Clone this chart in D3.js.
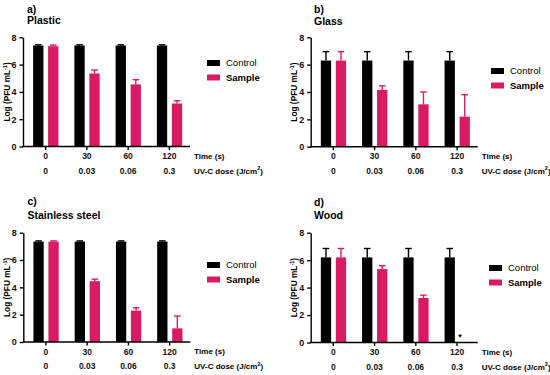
<!DOCTYPE html>
<html>
<head>
<meta charset="utf-8">
<script src="https://cdn.jsdelivr.net/npm/d3@7"></script>
<style>
  body { margin: 0; background: #fff; }
  svg { font-family: "Liberation Sans", Arial, sans-serif; }
</style>
</head>
<body>
<div id="chart"></div>
<script>
// data
var times = ["0", "30", "60", "120"]
var doses = ["0", "0.03", "0.06", "0.3"]
var seriesNames = ["Control", "Sample"]

var plasticControl = [7.4, 7.4, 7.4, 7.4]
var plasticControlErr = [0.05, 0.05, 0.05, 0.05]
var plasticSample = [7.35, 5.35, 4.55, 3.15]
var plasticSampleErr = [0.08, 0.25, 0.35, 0.2]

var glassControl = [6.3, 6.3, 6.3, 6.3]
var glassControlErr = [0.65, 0.65, 0.65, 0.65]
var glassSample = [6.3, 4.15, 3.1, 2.2]
var glassSampleErr = [0.65, 0.3, 0.9, 1.6]

var steelControl = [7.35, 7.35, 7.35, 7.35]
var steelControlErr = [0.05, 0.05, 0.05, 0.05]
var steelSample = [7.35, 4.45, 2.3, 1.0]
var steelSampleErr = [0.05, 0.15, 0.2, 0.9]

var woodControl = [6.2, 6.2, 6.2, 6.2]
var woodControlErr = [0.65, 0.65, 0.65, 0.65]
var woodSample = [6.2, 5.35, 3.25, 0]
var woodSampleErr = [0.65, 0.25, 0.2, 0]

var yTicks = [0, 2, 4, 6, 8]

var colors = { Control: "#000000", Sample: "#d81b64" }

var width = 550, height = 375

var svg = d3.select("#chart")
    .append("svg")
    .attr("width", width)
    .attr("height", height)

var panels = [
    { tag: "a)", name: "Plastic", c: plasticControl, ce: plasticControlErr, s: plasticSample, se: plasticSampleErr,
      x0: 23, yTop: 37.3, yBot: 146.5, tagY: 12.5, nameY: 24, tagX: 27, legX: 207, legY: 60 },
    { tag: "b)", name: "Glass", c: glassControl, ce: glassControlErr, s: glassSample, se: glassSampleErr,
      x0: 310.7, yTop: 37.3, yBot: 146.7, tagY: 13, nameY: 25, tagX: 314, legX: 491, legY: 68 },
    { tag: "c)", name: "Stainless steel", c: steelControl, ce: steelControlErr, s: steelSample, se: steelSampleErr,
      x0: 23.3, yTop: 232.7, yBot: 342, tagY: 205, nameY: 219, tagX: 27.5, legX: 207, legY: 262 },
    { tag: "d)", name: "Wood", c: woodControl, ce: woodControlErr, s: woodSample, se: woodSampleErr,
      x0: 310.7, yTop: 232.7, yBot: 342.5, tagY: 206, nameY: 219, tagX: 314, legX: 489, legY: 265, star: true }
]

var barW = 10.3

panels.forEach(function (p) {
    var g = svg.append("g")

    var x = d3.scaleBand()
        .domain(times)
        .range([p.x0 + 2, p.x0 + 167])

    var y = d3.scaleLinear()
        .domain([0, 8])
        .range([p.yBot, p.yTop])

    // titles
    g.append("text")
        .attr("x", p.tagX).attr("y", p.tagY)
        .attr("font-size", 10.5).attr("font-weight", "bold")
        .text(p.tag)
    g.append("text")
        .attr("x", p.tagX).attr("y", p.nameY)
        .attr("font-size", 10.5).attr("font-weight", "bold")
        .text(p.name)

    // bars
    var rows = times.map(function (t, i) {
        return [
            { key: "Control", t: t, v: p.c[i], e: p.ce[i], off: -12.5 },
            { key: "Sample", t: t, v: p.s[i], e: p.se[i], off: 2.5 }
        ]
    }).flat()

    var cx = function (d) { return x(d.t) + x.bandwidth() / 2 + d.off }

    g.selectAll("rect.bar")
        .data(rows)
        .enter()
        .append("rect")
        .attr("class", "bar")
        .attr("x", cx)
        .attr("y", function (d) { return y(d.v) })
        .attr("width", barW)
        .attr("height", function (d) { return y(0) - y(d.v) })
        .attr("fill", function (d) { return colors[d.key] })

    // error bars (upper half only)
    var errs = rows.filter(function (d) { return d.v > 0 })
    g.selectAll("line.err")
        .data(errs)
        .enter()
        .append("line")
        .attr("x1", function (d) { return cx(d) + barW / 2 })
        .attr("x2", function (d) { return cx(d) + barW / 2 })
        .attr("y1", function (d) { return y(d.v) })
        .attr("y2", function (d) { return y(d.v + d.e) })
        .attr("stroke", function (d) { return colors[d.key] })
        .attr("stroke-width", 1.4)
    g.selectAll("line.cap")
        .data(errs)
        .enter()
        .append("line")
        .attr("x1", function (d) { return cx(d) + barW / 2 - 3.3 })
        .attr("x2", function (d) { return cx(d) + barW / 2 + 3.3 })
        .attr("y1", function (d) { return y(d.v + d.e) })
        .attr("y2", function (d) { return y(d.v + d.e) })
        .attr("stroke", function (d) { return colors[d.key] })
        .attr("stroke-width", 1.4)

    if (p.star) {
        g.append("text")
            .attr("x", x("120") + x.bandwidth() / 2 + 3)
            .attr("y", y(0) - 3)
            .attr("text-anchor", "middle")
            .attr("font-size", 9).attr("font-weight", "bold")
            .text("*")
    }

    // y axis
    var yAxis = g.append("g")
        .attr("transform", "translate(" + p.x0 + ",0)")
        .call(d3.axisLeft(y).tickValues(yTicks).tickSize(3.5).tickSizeOuter(0))
    yAxis.select(".domain").attr("stroke-width", 1.4)
    yAxis.selectAll(".tick line").attr("stroke-width", 1.4)
    yAxis.selectAll("text")
        .attr("font-size", 9).attr("font-weight", "bold")
        .attr("font-family", "Liberation Sans, Arial, sans-serif")
        .attr("fill", "#111")

    // x axis
    var xAxis = g.append("g")
        .attr("transform", "translate(0," + p.yBot + ")")
        .call(d3.axisBottom(x).tickSize(3.5).tickSizeOuter(0).tickPadding(3))
    xAxis.select(".domain").remove()
    xAxis.selectAll(".tick line").attr("stroke-width", 1.4)
    xAxis.selectAll("text")
        .attr("font-size", 8.5).attr("font-weight", "bold")
        .attr("font-family", "Liberation Sans, Arial, sans-serif")
        .attr("fill", "#111")
    g.append("line")
        .attr("x1", p.x0 - 0.7).attr("x2", p.x0 + 167)
        .attr("y1", p.yBot).attr("y2", p.yBot)
        .attr("stroke", "#000").attr("stroke-width", 1.4)

    // dose row
    g.selectAll("text.dose")
        .data(doses)
        .enter()
        .append("text")
        .attr("x", function (d, i) { return x(times[i]) + x.bandwidth() / 2 })
        .attr("y", p.yBot + 27)
        .attr("text-anchor", "middle")
        .attr("font-size", 8.5).attr("font-weight", "bold")
        .attr("fill", "#111")
        .text(function (d) { return d })

    g.append("text")
        .attr("x", p.x0 + 171).attr("y", p.yBot + 12)
        .attr("font-size", 8).attr("font-weight", "bold")
        .text("Time (s)")
    var uv = g.append("text")
        .attr("x", p.x0 + 171).attr("y", p.yBot + 27)
        .attr("font-size", 8).attr("font-weight", "bold")
    uv.append("tspan").text("UV-C dose (J/cm")
    uv.append("tspan").attr("dy", -3.5).attr("font-size", 5.5).text("2")
    uv.append("tspan").attr("dy", 3.5).text(")")

    // y label
    var yl = g.append("text")
        .attr("transform", "translate(" + (p.x0 - 13.5) + "," + ((p.yTop + p.yBot) / 2) + ") rotate(-90)")
        .attr("text-anchor", "middle")
        .attr("font-size", 8.3).attr("font-weight", "bold")
    yl.append("tspan").text("Log (PFU mL")
    yl.append("tspan").attr("dy", -3).attr("font-size", 5.5).text("-1")
    yl.append("tspan").attr("dy", 3).text(")")

    // legend
    seriesNames.forEach(function (s, i) {
        g.append("rect")
            .attr("x", p.legX).attr("y", p.legY + i * 14.5)
            .attr("width", 13).attr("height", 6)
            .attr("fill", colors[s])
        g.append("text")
            .attr("x", p.legX + 19).attr("y", p.legY + i * 14.5 + 6.3)
            .attr("font-size", 9.5)
            .attr("font-weight", s == "Sample" ? "bold" : "normal")
            .text(s)
    })
})
</script>
</body>
</html>
